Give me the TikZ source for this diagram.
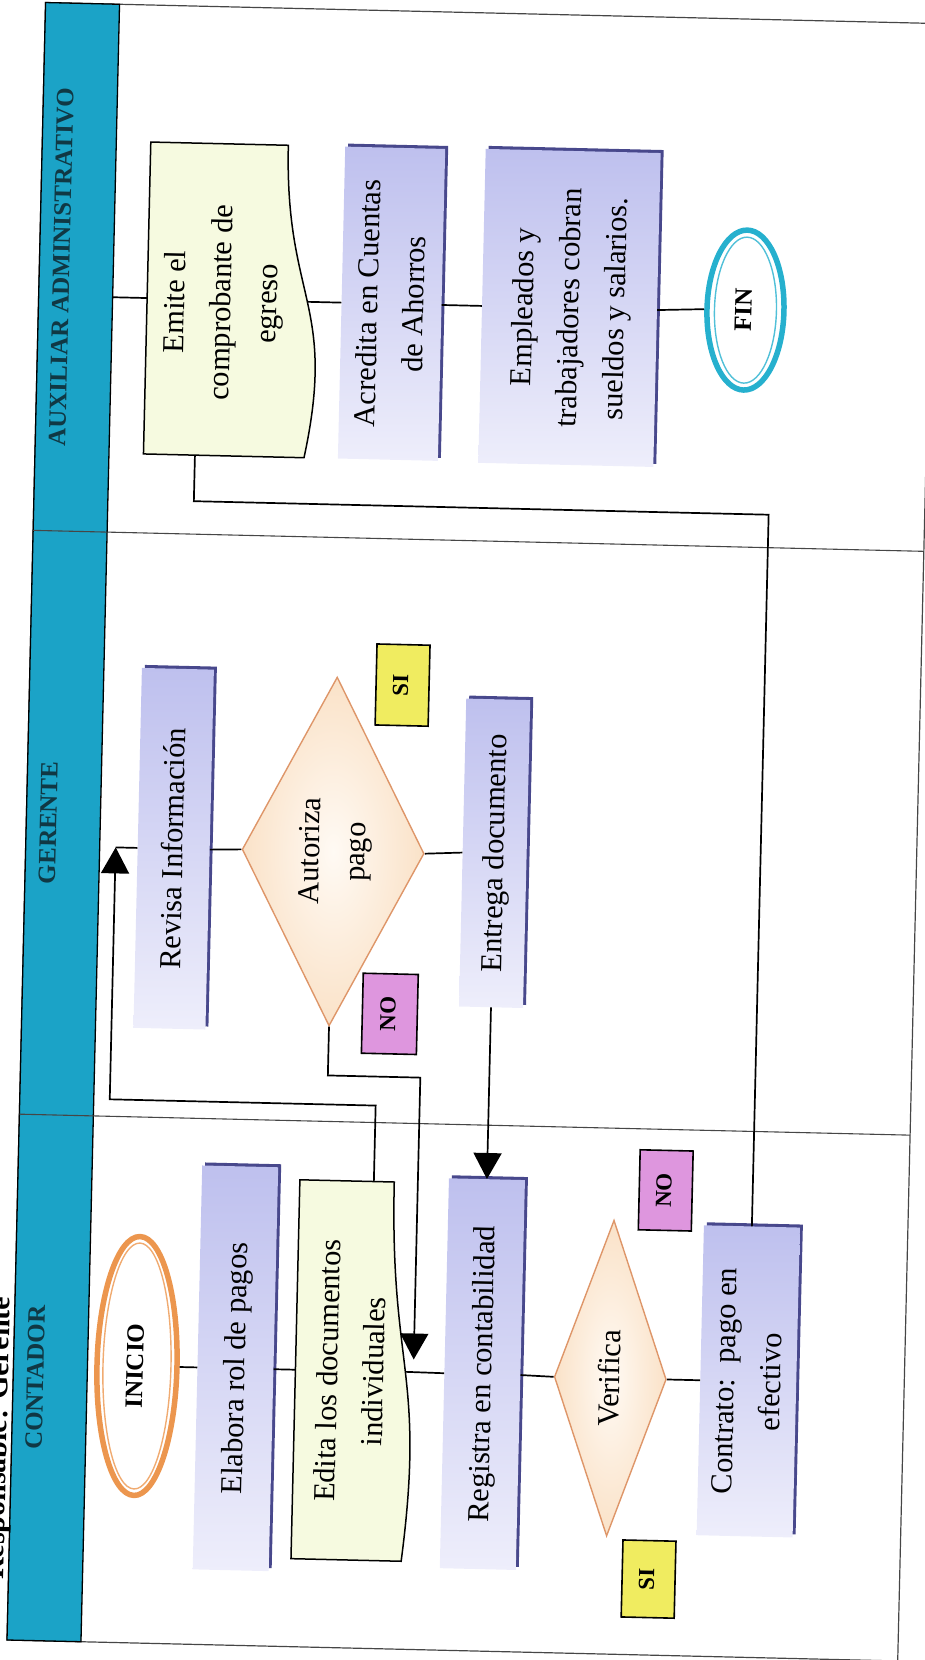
\documentclass[tikz,border=0pt]{standalone}
\usepackage{fontspec}
\setmainfont{Liberation Serif}
\usepackage{graphicx}
\usetikzlibrary{arrows.meta,shapes.geometric,shadows}
\definecolor{bluebar}{RGB}{27,163,199}
\definecolor{headtxt}{RGB}{16,56,68}
\definecolor{lav}{RGB}{190,192,238}
\definecolor{lavlight}{RGB}{238,238,251}
\definecolor{shadowc}{RGB}{72,72,140}
\definecolor{docfill}{RGB}{246,250,224}
\definecolor{peach}{RGB}{250,226,200}
\definecolor{peachlight}{RGB}{255,250,244}
\definecolor{peachline}{RGB}{222,150,105}
\definecolor{inicioc}{RGB}{236,150,78}
\definecolor{finc}{RGB}{38,176,206}
\definecolor{siyellow}{RGB}{240,236,96}
\definecolor{nopink}{RGB}{222,150,222}
\definecolor{framec}{RGB}{70,70,70}
\newcommand{\vtxt}[1]{\rotatebox{90}{\begin{tabular}{@{}c@{}}#1\end{tabular}}}
\newcommand{\boxfont}{\fontsize{30.5}{46}\selectfont}
\begin{document}
\begin{tikzpicture}[x=1pt,y=1pt,
  procbox/.style={rectangle, inner sep=0pt, top color=lav, bottom color=lavlight,
     font=\boxfont, drop shadow={shadow xshift=3pt, shadow yshift=3pt, fill=shadowc, opacity=1}},
  docshape/.style={draw=black, line width=1.5pt, fill=docfill},
  txt/.style={inner sep=0pt, font=\boxfont},
  decis/.style={diamond, inner sep=0pt, draw=peachline, line width=1.4pt,
     inner color=peachlight, outer color=peach, font=\boxfont},
  headlbl/.style={inner sep=0pt, text=headtxt, font=\bfseries\fontsize{25}{30}\selectfont},
  tagsi/.style={rectangle, inner sep=0pt, fill=siyellow, draw=black, line width=1.6pt,
     font=\bfseries\fontsize{23}{28}\selectfont},
  tagno/.style={tagsi, fill=nopink},
  conn/.style={line width=1.7pt, black},
  arr/.style={conn, -{Triangle[length=26pt,width=28pt]}}
]
\useasboundingbox (0,0) rectangle (924,1660);
\begin{scope}[shift={(7,20)}, rotate=-1.35, transform shape]
% frame and lanes
\draw[framec, line width=1.2pt] (0,0) rectangle (891,1638);
\fill[bluebar] (0,0) rectangle (74,1638);
\draw[black, line width=1.3pt] (0,0) rectangle (74,1638);
\draw[framec, line width=1.1pt] (0,526) -- (891,526) (0,1110) -- (891,1110);
\node[headlbl] (hcon) at (22,263) {\rotatebox{90}{CONTADOR}};
\node[headlbl] (hger) at (22,818) {\rotatebox{90}{GERENTE}};
\node[headlbl] (haux) at (22,1374) {\rotatebox{90}{AUXILIAR ADMINISTRATIVO}};
\node[rotate=90, anchor=base west, inner sep=0pt, font=\bfseries\fontsize{30}{36}\selectfont] (resp) at (-5,60) {Responsable: Gerente};

% CONTADOR lane
\node[ellipse, minimum width=80, minimum height=259, inner sep=0pt, draw=inicioc, line width=5.5pt,
      font=\bfseries\fontsize{25}{30}\selectfont] (inicio) at (123.5,277) {\vtxt{INICIO}};
\draw[inicioc!80, line width=1.4pt] (inicio.center) ellipse [x radius=34, y radius=123];
\node[procbox, minimum width=76, minimum height=404] (elabora) at (222,277) {\vtxt{Elabora rol de pagos}};
\path[docshape] (282,88) -- (282,467) -- (376.4,467) .. controls (376.4,277.5) and (412.6,277.5) .. (392.2,88) -- cycle;
\node[txt] (edita) at (338,277) {\vtxt{Edita los documentos\\individuales}};
\coordinate (editaR) at (392,277.5);
\coordinate (editaT) at (356,467);
\node[procbox, minimum width=76, minimum height=390] (registra) at (469,277) {\vtxt{Registra en contabilidad}};
\node[decis, aspect=0.35, minimum width=112, minimum height=316] (ver) at (597,276) {\vtxt{Verifica}};
\node[procbox, minimum width=96, minimum height=310] (contrato) at (735,276) {\vtxt{Contrato:\ \ pago en\\efectivo}};
\node[tagno, minimum width=53, minimum height=80] (noc) at (648,465) {\vtxt{NO}};
\node[tagsi, minimum width=53, minimum height=77] (sic) at (640,76) {\vtxt{SI}};

% GERENTE lane
\node[procbox, minimum width=72, minimum height=360] (revisa) at (148,795) {\vtxt{Revisa Información}};
\node[decis, aspect=0.52, minimum width=182, minimum height=349] (aut) at (307.5,796) {\vtxt{Autoriza\\pago}};
\node[procbox, minimum width=64, minimum height=308] (entrega) at (469,798) {\vtxt{Entrega documento}};
\node[tagsi, minimum width=53, minimum height=81] (sig) at (373,964) {\vtxt{SI}};
\node[tagno, minimum width=55, minimum height=80] (nog) at (368,635) {\vtxt{NO}};
\coordinate (revTip) at (90,795);
\coordinate (bendA) at (356,543);
\coordinate (noBend) at (400,572);
\coordinate (noTip) at (400,290);

% AUXILIAR lane
\path[docshape] (108.5,1189) -- (108.5,1501) -- (246.1,1501) .. controls (246.1,1345) and (298.9,1345) .. (269.1,1189) -- cycle;
\node[txt] (emite) at (183,1342) {\vtxt{Emite el\\comprobante de\\egreso}};
\coordinate (emiteL) at (108.5,1345);
\coordinate (emiteR) at (268.8,1345);
\coordinate (emiteB) at (160,1189);
\coordinate (auxEdge) at (74,1345);
\coordinate (bendC) at (160,1143);
\node[procbox, minimum width=100, minimum height=312] (acredita) at (353,1345) {\vtxt{Acredita en Cuentas\\de Ahorros}};
\node[procbox, minimum width=175, minimum height=314] (empleados) at (531,1345) {\vtxt{Empleados y\\trabajadores cobran\\sueldos y salarios.}};
\node[ellipse, minimum width=77, minimum height=160, inner sep=0pt, draw=finc, line width=5.5pt,
      font=\bfseries\fontsize{25}{30}\selectfont] (fin) at (707,1347) {\vtxt{FIN}};
\draw[finc!80, line width=1.4pt] (fin.center) ellipse [x radius=31, y radius=73];

% connectors
\draw[conn] (inicio.east) -- (elabora.west);
\draw[conn] (elabora.east) -- (282,277);
\draw[conn] (editaR) -- (registra.west);
\draw[conn] (registra.east) -- (ver.west);
\draw[conn] (ver.east) -- (contrato.west);
\draw[conn] (revisa.east) -- (aut.west);
\draw[conn] (aut.east) -- (entrega.west);
\draw[arr] (entrega.south) -- (registra.north);
\draw[arr] (aut.south) |- (noBend) -- (noTip);
\draw[arr] (editaT) -- (bendA) -| (revTip);
\draw[conn] (revTip) -- (revisa.west);
\draw[conn] (contrato.north) |- (bendC) -- (emiteB);
\draw[conn] (auxEdge) -- (emiteL);
\draw[conn] (emiteR) -- (acredita.west);
\draw[conn] (acredita.east) -- (empleados.west);
\draw[conn] (empleados.east) -- (fin.west);
\end{scope}
\end{tikzpicture}
\end{document}
